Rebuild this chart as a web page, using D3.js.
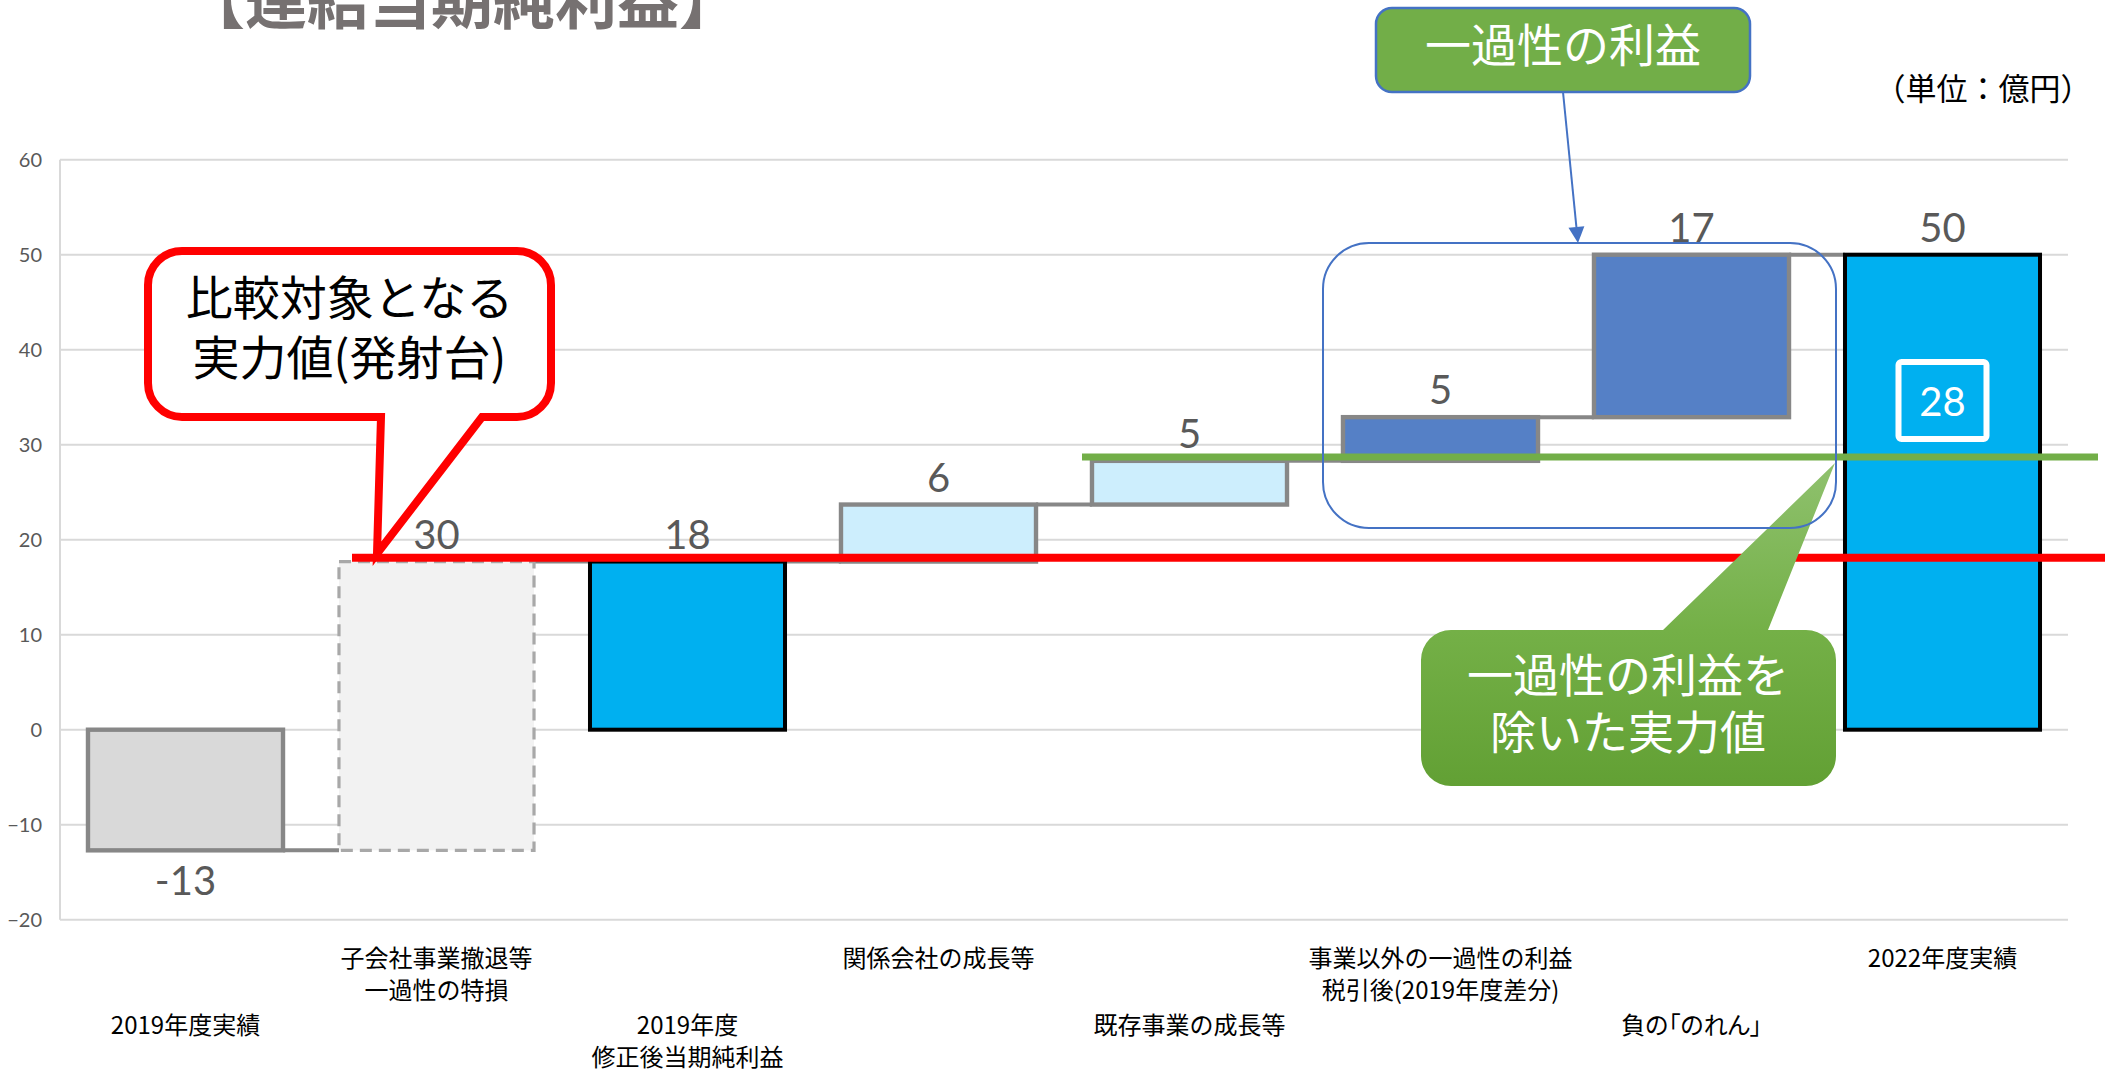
<!DOCTYPE html>
<html>
<head>
<meta charset="utf-8">
<script src="https://cdnjs.cloudflare.com/ajax/libs/d3/7.8.5/d3.min.js"></script>
<style>
  body { margin: 0; background: #fff; }
  svg { display: block; }
</style>
</head>
<body>
<svg id="chart" width="2116" height="1074"></svg>
<script>
// ---------------- data ----------------
const categories = [
  "2019年度実績",
  "子会社事業撤退等\n一過性の特損",
  "2019年度\n修正後当期純利益",
  "関係会社の成長等",
  "既存事業の成長等",
  "事業以外の一過性の利益\n税引後(2019年度差分)",
  "負の「のれん」",
  "2022年度実績"
];
const values = [-12.7, 30.4, 17.7, 6.0, 4.6, 4.6, 17.1, 50.0];
const kinds = ["total", "step", "total", "step", "step", "step", "step", "total"];
const dataLabels = ["-13", "30", "18", "6", "5", "5", "17", "50"];
const yTicks = [-20, -10, 0, 10, 20, 30, 40, 50, 60];
const baseLineValue = 18.1;      // red line: 実力値(発射台)
const coreLineValue = 28.7;      // green line: 一過性の利益を除いた実力値
const coreLabel = "28";

// ---------------- styles ----------------
const barStyles = [
  { fill: "#d9d9d9", stroke: "#878787", sw: 4.4, dash: null },
  { fill: "#f2f2f2", stroke: "#a8a8a8", sw: 3.2, dash: "12,7" },
  { fill: "#00b0f0", stroke: "#000000", sw: 4, dash: null },
  { fill: "#cdeefd", stroke: "#878787", sw: 4.4, dash: null },
  { fill: "#cdeefd", stroke: "#878787", sw: 4.4, dash: null },
  { fill: "#5580c6", stroke: "#878787", sw: 4.4, dash: null },
  { fill: "#5580c6", stroke: "#878787", sw: 4.4, dash: null },
  { fill: "#00b0f0", stroke: "#000000", sw: 4, dash: null }
];
const JP = "'Noto Sans CJK JP', 'Noto Sans', sans-serif";
const NUM = "Lato, 'Open Sans', sans-serif";

// compute floating bars
let cum = 0;
const bars = values.map((v, i) => {
  let base, end;
  if (kinds[i] === "total") { base = 0; end = v; }
  else { base = cum; end = cum + v; }
  cum = end;
  return { i, cat: categories[i], base, end, label: dataLabels[i] };
});

const svg = d3.select("#chart");
const plotL = 60, plotR = 2068;

const x = d3.scaleBand().domain(categories).range([plotL, plotR])
  .paddingInner(0.223).paddingOuter(0.1115);
const y = d3.scaleLinear().domain([-20, 60]).range([919.7, 159.7]);
const bw = x.bandwidth();

// title (cut off at top)
svg.append("text")
  .attr("x", 462).attr("y", 24)
  .attr("text-anchor", "middle")
  .attr("font-family", JP).attr("font-weight", "bold")
  .attr("font-size", 62).attr("fill", "#767171")
  .text("【連結当期純利益】");

// unit
svg.append("text")
  .attr("x", 1983).attr("y", 100)
  .attr("text-anchor", "middle")
  .attr("font-family", JP).attr("font-size", 31).attr("fill", "#000")
  .text("（単位：億円）");

// gridlines
svg.append("g").selectAll("line").data(yTicks).join("line")
  .attr("x1", plotL).attr("x2", plotR)
  .attr("y1", d => y(d)).attr("y2", d => y(d))
  .attr("stroke", "#d9d9d9").attr("stroke-width", 2);
svg.append("line")
  .attr("x1", plotL).attr("x2", plotL)
  .attr("y1", y(60)).attr("y2", y(-20))
  .attr("stroke", "#d9d9d9").attr("stroke-width", 2);

// y axis
const yAxis = d3.axisLeft(y).tickValues(yTicks).tickSize(0).tickPadding(18);
const gy = svg.append("g").attr("transform", `translate(${plotL},0)`).call(yAxis);
gy.select(".domain").remove();
gy.selectAll("text").attr("font-family", NUM).attr("font-size", 20).attr("fill", "#595959");

// x axis labels (staggered, multi-line)
const xAxis = d3.axisBottom(x).tickSize(0).tickFormat("");
const gx = svg.append("g").attr("transform", `translate(0,${y(-20)})`).call(xAxis);
gx.select(".domain").remove();
gx.selectAll(".tick").each(function (d, i) {
  const t = d3.select(this).select("text");
  t.attr("y", 0).attr("dy", null)
    .attr("font-family", JP).attr("font-size", 24).attr("fill", "#000");
  if (d.includes("「")) t.style("font-feature-settings", "'palt'");
  const lines = d.split("\n");
  const firstBase = (i % 2 === 0 ? 1034 : 967) - y(-20);
  lines.forEach((ln, k) => {
    t.append("tspan").attr("x", 0).attr("y", firstBase + k * 32.5).text(ln);
  });
});

// connectors
const conn = svg.append("g");
for (let i = 0; i < bars.length - 1; i++) {
  conn.append("line")
    .attr("x1", x(bars[i].cat) + bw).attr("x2", x(bars[i + 1].cat))
    .attr("y1", y(bars[i].end)).attr("y2", y(bars[i].end))
    .attr("stroke", "#878787").attr("stroke-width", 4);
}

// bars
svg.append("g").selectAll("rect").data(bars).join("rect")
  .attr("x", d => x(d.cat))
  .attr("width", bw)
  .attr("y", d => y(Math.max(d.base, d.end)))
  .attr("height", d => Math.abs(y(d.base) - y(d.end)))
  .attr("fill", d => barStyles[d.i].fill)
  .attr("stroke", d => barStyles[d.i].stroke)
  .attr("stroke-width", d => barStyles[d.i].sw)
  .attr("stroke-dasharray", d => barStyles[d.i].dash);

// data labels
svg.append("g").selectAll("text").data(bars).join("text")
  .attr("x", d => x(d.cat) + bw / 2)
  .attr("y", d => d.end < 0 ? y(Math.min(d.base, d.end)) + 45 : y(Math.max(d.base, d.end)) - 13)
  .attr("text-anchor", "middle")
  .attr("font-family", NUM).attr("font-size", 40).attr("fill", "#595959")
  .text(d => d.label);

// "28" box on final bar
const last = bars[bars.length - 1];
const cx8 = x(last.cat) + bw / 2;
svg.append("rect")
  .attr("x", cx8 - 44).attr("y", y(38.7))
  .attr("width", 88).attr("height", 77)
  .attr("rx", 3)
  .attr("fill", "none").attr("stroke", "#fff").attr("stroke-width", 6);
svg.append("text")
  .attr("x", cx8).attr("y", y(38.7) + 54)
  .attr("text-anchor", "middle")
  .attr("font-family", NUM).attr("font-size", 40).attr("fill", "#fff")
  .text(coreLabel);

// red line
svg.append("line")
  .attr("x1", 352).attr("x2", 2105)
  .attr("y1", y(baseLineValue)).attr("y2", y(baseLineValue))
  .attr("stroke", "#ff0000").attr("stroke-width", 8);

// green line
svg.append("line")
  .attr("x1", 1082).attr("x2", 2098)
  .attr("y1", y(coreLineValue)).attr("y2", y(coreLineValue))
  .attr("stroke", "#72ae48").attr("stroke-width", 7);

// red callout
(function () {
  const L = 148, R = 551, T = 251, B = 417, r = 34;
  const tipX = x(categories[1]) + 38, tipY = y(baseLineValue) - 4;
  const b1 = 381, b2 = 482;
  const p = `M${L + r},${T} H${R - r} A${r},${r} 0 0 1 ${R},${T + r} V${B - r} A${r},${r} 0 0 1 ${R - r},${B}
    H${b2} L${tipX},${tipY} L${b1},${B} H${L + r} A${r},${r} 0 0 1 ${L},${B - r} V${T + r} A${r},${r} 0 0 1 ${L + r},${T} Z`;
  svg.append("path").attr("d", p)
    .attr("fill", "#fff").attr("stroke", "#ff0000").attr("stroke-width", 8)
    .attr("stroke-linejoin", "miter");
  const t = svg.append("text").attr("text-anchor", "middle")
    .attr("font-family", JP).attr("font-size", 47).attr("fill", "#000");
  t.append("tspan").attr("x", (L + R) / 2).attr("y", 315).text("比較対象となる");
  t.append("tspan").attr("x", (L + R) / 2).attr("y", 375).text("実力値(発射台)");
})();

// green callout (bottom)
const defs = svg.append("defs");
const grad = defs.append("linearGradient").attr("id", "gGreen")
  .attr("x1", 0).attr("y1", 0).attr("x2", 0).attr("y2", 1);
grad.append("stop").attr("offset", "0%").attr("stop-color", "#8fc16e");
grad.append("stop").attr("offset", "52%").attr("stop-color", "#74b047");
grad.append("stop").attr("offset", "100%").attr("stop-color", "#62a034");
(function () {
  const L = 1421, R = 1836, T = 630, B = 786, r = 30;
  const tipX = 1835, tipY = y(coreLineValue) + 6;
  const b1 = 1663, b2 = 1768;
  const p = `M${L + r},${T} H${b1} L${tipX},${tipY} L${b2},${T} H${R - r} A${r},${r} 0 0 1 ${R},${T + r} V${B - r}
    A${r},${r} 0 0 1 ${R - r},${B} H${L + r} A${r},${r} 0 0 1 ${L},${B - r} V${T + r} A${r},${r} 0 0 1 ${L + r},${T} Z`;
  svg.append("path").attr("d", p).attr("fill", "url(#gGreen)");
  svg.append("text").attr("text-anchor", "middle")
    .attr("font-family", JP).attr("font-size", 46).attr("fill", "#fff")
    .attr("x", 1628).attr("y", 692).text("一過性の利益を");
  svg.append("text").attr("text-anchor", "middle")
    .attr("font-family", JP).attr("font-size", 46).attr("fill", "#fff")
    .attr("x", 1628).attr("y", 749).text("除いた実力値");
})();

// blue rounded frame around one-off gains
svg.append("rect")
  .attr("x", 1323).attr("y", 243).attr("width", 513).attr("height", 285)
  .attr("rx", 46).attr("ry", 46)
  .attr("fill", "none").attr("stroke", "#4472c4").attr("stroke-width", 2);

// top green callout
svg.append("rect")
  .attr("x", 1376).attr("y", 8).attr("width", 374).attr("height", 84)
  .attr("rx", 16).attr("ry", 16)
  .attr("fill", "#72ae48").attr("stroke", "#4472c4").attr("stroke-width", 2.5);
svg.append("text")
  .attr("x", 1563).attr("y", 62).attr("text-anchor", "middle")
  .attr("font-family", JP).attr("font-size", 46).attr("fill", "#fff")
  .text("一過性の利益");

// arrow
(function () {
  const x0 = 1563, y0 = 92, x1 = 1578, y1 = 243;
  const ang = Math.atan2(y1 - y0, x1 - x0);
  const len = 16, half = 8;
  const bx = x1 - len * Math.cos(ang), by = y1 - len * Math.sin(ang);
  svg.append("line").attr("x1", x0).attr("y1", y0).attr("x2", bx).attr("y2", by)
    .attr("stroke", "#4472c4").attr("stroke-width", 2);
  const px = -Math.sin(ang), py = Math.cos(ang);
  svg.append("path")
    .attr("d", `M${x1},${y1} L${bx + px * half},${by + py * half} L${bx - px * half},${by - py * half} Z`)
    .attr("fill", "#4472c4");
})();
</script>
</body>
</html>
